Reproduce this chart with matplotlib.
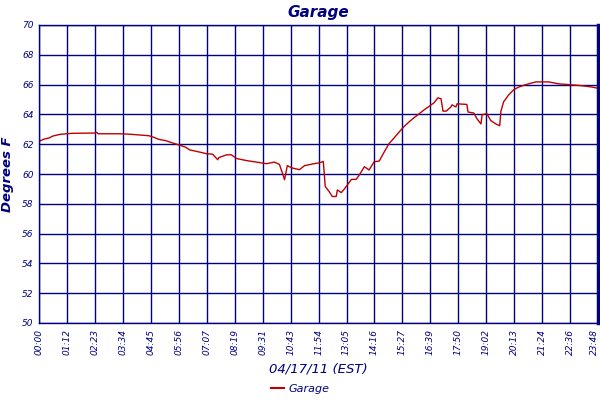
import matplotlib
matplotlib.use("Agg")
import matplotlib.pyplot as plt
import matplotlib.transforms as mtransforms
from matplotlib.lines import Line2D

# readings from the picture: minutes after midnight, degrees F
minutes = [0, 11, 25, 35, 53, 83, 142, 147, 150, 206, 231, 280, 293, 305, 323,
           339, 356, 374, 384, 410, 428, 443, 456, 459, 479, 491, 504, 530, 555,
           581, 601, 614, 627, 634, 647, 665, 678, 698, 716, 726, 731, 741, 749,
           759, 762, 772, 780, 798, 810, 818, 831, 843, 856, 869, 882, 894, 907,
           920, 933, 945, 958, 971, 984, 996, 1009, 1019, 1027, 1032, 1040, 1052,
           1055, 1065, 1068, 1093, 1096, 1111, 1119, 1129, 1132, 1144, 1154, 1167,
           1177, 1180, 1187, 1200, 1213, 1226, 1244, 1269, 1302, 1328, 1353, 1386,
           1412, 1425, 1428]
garage = [62.2, 62.33, 62.42, 62.55, 62.66, 62.73, 62.75, 62.8, 62.7, 62.7, 62.67,
          62.57, 62.46, 62.33, 62.24, 62.1, 61.96, 61.8, 61.62, 61.47, 61.36, 61.33,
          60.96, 61.1, 61.29, 61.29, 61.04, 60.9, 60.8, 60.69, 60.8, 60.64, 59.62,
          60.56, 60.4, 60.29, 60.56, 60.67, 60.75, 60.84, 59.16, 58.82, 58.49, 58.49,
          58.93, 58.75, 59.0, 59.64, 59.64, 59.93, 60.49, 60.27, 60.82, 60.87, 61.49,
          62.04, 62.42, 62.82, 63.2, 63.49, 63.78, 64.04, 64.31, 64.53, 64.78, 65.11,
          65.05, 64.22, 64.22, 64.49, 64.64, 64.5, 64.71, 64.67, 64.16, 64.09, 63.7,
          63.36, 63.98, 64.05, 63.59, 63.36, 63.24, 64.2, 64.85, 65.31, 65.66, 65.84,
          66.0, 66.18, 66.18, 66.05, 66.0, 65.93, 65.84, 65.77, 65.77]

tick_labels = ["00:00", "01:12", "02:23", "03:34", "04:45", "05:56", "07:07",
               "08:19", "09:31", "10:43", "11:54", "13:05", "14:16", "15:27",
               "16:39", "17:50", "19:02", "20:13", "21:24", "22:36", "23:48"]
y_ticks = [50, 52, 54, 56, 58, 60, 62, 64, 66, 68, 70]

navy = "#000080"
red = "#c00000"
plt.rcParams['font.family'] = ['DejaVu Sans']

fig = plt.figure(figsize=(6, 4), dpi=100)
ax = fig.add_axes([0.0655, 0.1925, 0.931, 0.745])

ax.plot(minutes, garage, color=red, lw=1.0)

span = 1428
xt = [span * i / 20 for i in range(21)]
ax.set_xlim(0, span)
ax.set_ylim(50, 70)
ax.set_xticks(xt)
ax.set_xticklabels(tick_labels, rotation=90, fontsize=6.5, style="italic", color=navy)
ax.set_yticks(y_ticks)
ax.set_yticklabels([str(v) for v in y_ticks], fontsize=6.5, style="italic", color=navy)
ax.tick_params(length=0, pad=4)
ax.grid(True, color=navy, lw=1.0)
ax.set_axisbelow(True)
for s in ax.spines.values():
    s.set_color(navy)
    s.set_linewidth(1.0)
ax.spines["right"].set_linewidth(2.5)

# pull the last time label in a little so it stays on the canvas
last = ax.get_xticklabels()[-1]
last.set_transform(last.get_transform() +
                   mtransforms.ScaledTranslation(-3 / 100, 0, fig.dpi_scale_trans))

ax.set_title("Garage", fontsize=11, style="italic", fontweight="bold",
             color=navy, pad=6)
ax.set_ylabel("Degrees F", fontsize=9.5, style="italic", fontweight="bold",
              color=navy, labelpad=6)
ax.set_xlabel("04/17/11 (EST)", fontsize=9.5, style="italic", color=navy,
              labelpad=6)

h = Line2D([], [], color=red, lw=1.5)
fig.legend([h], ["Garage"], loc="center", bbox_to_anchor=(0.5, 0.028),
           frameon=False, prop={"size": 8, "style": "italic"},
           labelcolor=navy, handlelength=1.2, handletextpad=0.4)

fig.savefig("out.png", dpi=100)
